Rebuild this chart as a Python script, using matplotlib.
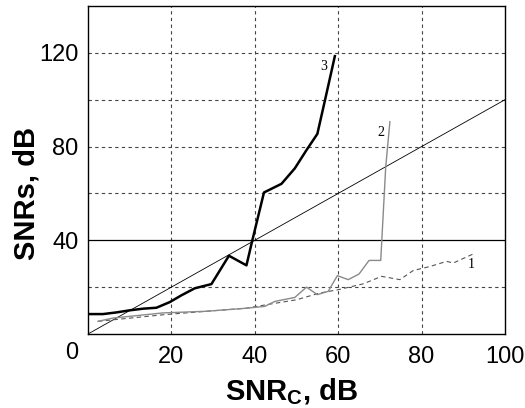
import matplotlib
matplotlib.use('Agg')
import matplotlib.pyplot as plt

plt.rcParams['font.family'] = ['Liberation Sans', 'DejaVu Sans']
plt.rcParams['mathtext.fontset'] = 'custom'
plt.rcParams['mathtext.rm'] = 'Liberation Sans'
plt.rcParams['mathtext.bf'] = 'Liberation Sans:bold'

# curve 3 (thick black)
x3 = [0, 3.6, 6.8, 10, 13.2, 16.4, 19.6, 22.4, 25.6, 29.6, 33.8, 38, 39.4,
      42.2, 46.4, 49.6, 52.4, 55, 57.2, 59.2]
y3 = [8.5, 8.5, 9.2, 10.1, 10.8, 11.2, 13.6, 16.5, 19.5, 21.3, 33.4, 29.3,
      39.9, 60.4, 64.1, 70.7, 78.5, 85.4, 102.7, 118.6]

# curve 2 (thin gray)
x2 = [2.4, 6, 18, 28.4, 38, 42.4, 44.8, 49.6, 52.4, 55, 57.6, 59.8, 62.4,
      65, 67.4, 70.2, 71.4, 72.4]
y2 = [5.4, 6.8, 9, 9.7, 11, 11.8, 13.9, 15.6, 20, 16.8, 18.2, 24.9, 23.2,
      25.6, 31.4, 31.4, 71.4, 90.6]

# curve 1 (dashed)
x1 = [2.4, 18, 28.4, 38, 42.8, 50, 55.6, 60, 66, 70.4, 74.8, 78, 82, 86,
      87.6, 92.8]
y1 = [5.4, 8.2, 9.7, 11, 12.5, 14.6, 17.5, 18.9, 21.4, 24.6, 23.2, 27.1,
      28.8, 31, 30.3, 34.5]

# reference line SNRs = SNRc
xd = [0, 100]
yd = [0, 100]

xticks = [20, 40, 60, 80, 100]
yticks = [40, 80, 120]
grid_x = [20, 40, 60, 80]
grid_y = [20, 60, 80, 100, 120]


def main():
    fig = plt.figure(figsize=(5.25, 4.08), dpi=100)
    ax = fig.add_axes([0.1676, 0.1814, 0.7943, 0.8039])

    for gx in grid_x:
        ax.axvline(gx, color='#444444', lw=0.8, ls=(0, (3, 3)), zorder=1)
    for gy in grid_y:
        ax.axhline(gy, color='#444444', lw=0.8, ls=(0, (3, 3)), zorder=1)
    ax.axhline(40, color='black', lw=0.9, zorder=1)

    ax.plot(xd, yd, color='black', lw=0.6, zorder=2)
    ax.plot(x1, y1, color='#555555', lw=0.8, ls=(0, (4, 3)), zorder=3)
    ax.plot(x2, y2, color='#8a8a8a', lw=1.0, zorder=3)
    ax.plot(x3, y3, color='black', lw=1.8, zorder=4)

    ax.text(56.6, 114, '3', family='Liberation Serif', fontsize=10,
            ha='center', va='center')
    ax.text(70.2, 86, '2', family='Liberation Serif', fontsize=10,
            ha='center', va='center')
    ax.text(92, 29.5, '1', family='Liberation Serif', fontsize=10,
            ha='center', va='center')

    ax.set_xlim(0, 100)
    ax.set_ylim(0, 140)
    ax.set_xticks(xticks)
    ax.set_yticks(yticks)
    ax.tick_params(length=0, labelsize=17, pad=9)
    ax.tick_params(axis='y', pad=7)
    ax.text(-3.8, -0.058, '0', transform=ax.get_xaxis_transform(),
            fontsize=17, ha='center', va='center')

    for s in ax.spines.values():
        s.set_linewidth(1.0)
        s.set_color('black')

    ax.set_xlabel(r'$\mathbf{SNR_C}$' + ', dB', fontsize=21,
                  fontweight='bold')
    ax.set_ylabel('SNRs, dB', fontsize=21, fontweight='bold')
    ax.xaxis.set_label_coords(0.487, -0.13)
    ax.yaxis.set_label_coords(-0.113, 0.43)

    plt.savefig('out.png', dpi=100)


if __name__ == "__main__":
    main()
